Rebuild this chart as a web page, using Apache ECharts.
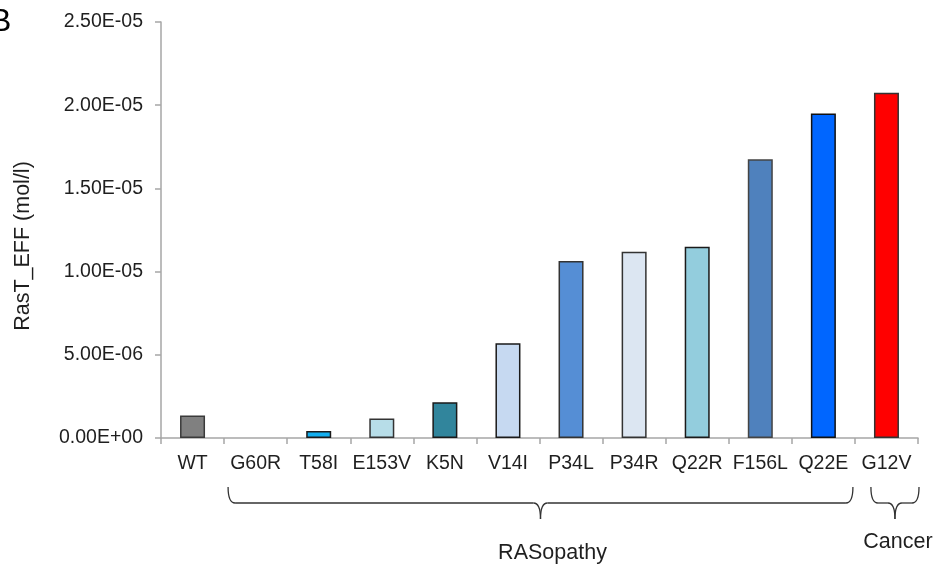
<!DOCTYPE html>
<html>
<head>
<meta charset="utf-8">
<script src="https://cdn.jsdelivr.net/npm/echarts@6/dist/echarts.min.js"></script>
<style>
  html, body { margin: 0; padding: 0; background: #fff; }
  #chart { width: 934px; height: 564px; }
</style>
</head>
<body>
<div id="chart"></div>
<script>
// Ras variants and their effective RasT concentration (mol/l)
const categories = ['WT', 'G60R', 'T58I', 'E153V', 'K5N', 'V14I', 'P34L', 'P34R', 'Q22R', 'F156L', 'Q22E', 'G12V'];
const values = [1.35e-6, 0, 0.42e-6, 1.17e-6, 2.15e-6, 5.7e-6, 10.64e-6, 11.2e-6, 11.5e-6, 16.75e-6, 19.5e-6, 20.75e-6];
const barColors = ['#808080', '#808080', '#12AEEF', '#B7DDE8', '#31859C', '#C6D9F1', '#558ED5', '#DCE6F2', '#93CDDD', '#4F81BD', '#0066FF', '#FF0000'];
const barBorders = ['#3a3a3a', '#1a1a1a', '#1a1a1a', '#333333', '#1a1a1a', '#1a1a1a', '#333333', '#333333', '#1a1a1a', '#444444', '#111111', '#333333'];
// category groups bracketed under the axis (inclusive index ranges)
const groups = [
  { name: 'RASopathy', from: 1, to: 10 },
  { name: 'Cancer', from: 11, to: 11 }
];
const yMax = 2.5e-5;
const yStep = 5e-6;

const FONT = "'Liberation Sans', Arial, sans-serif";
const TEXT = '#1f1f1f';
const AXIS = '#a6a6a6';

function sci(v) {
  if (v === 0) return '0.00E+00';
  let e = Math.floor(Math.log10(Math.abs(v)) + 1e-9);
  let m = v / Math.pow(10, e);
  if (Math.abs(m) >= 9.995) { m /= 10; e += 1; }
  const sign = e < 0 ? '-' : '+';
  const ea = Math.abs(e);
  return m.toFixed(2) + 'E' + sign + (ea < 10 ? '0' + ea : String(ea));
}

const chart = echarts.init(document.getElementById('chart'), null, { renderer: 'canvas' });

chart.setOption({
  animation: false,
  backgroundColor: '#ffffff',
  grid: { left: 161, right: 16, top: 22, bottom: 126, containLabel: false },
  xAxis: {
    type: 'category',
    data: categories,
    axisLine: { lineStyle: { color: AXIS, width: 1.5 } },
    axisTick: { show: true, alignWithLabel: false, length: 6, lineStyle: { color: AXIS, width: 1.5 } },
    axisLabel: { color: TEXT, fontFamily: FONT, fontSize: 19.5, margin: 15.5, interval: 0 },
    splitLine: { show: false }
  },
  yAxis: {
    type: 'value',
    min: 0,
    max: yMax,
    interval: yStep,
    name: 'RasT_EFF (mol/l)',
    nameLocation: 'middle',
    nameGap: 127,
    nameRotate: 90,
    nameTextStyle: { color: TEXT, fontFamily: FONT, fontSize: 21.5, padding: [0, 0, 0, -32] },
    axisLine: { show: true, lineStyle: { color: AXIS, width: 1.5 } },
    axisTick: { show: true, inside: false, length: 6, lineStyle: { color: AXIS, width: 1.5 } },
    axisLabel: { color: TEXT, fontFamily: FONT, fontSize: 19.5, margin: 18, formatter: sci },
    splitLine: { show: false }
  },
  series: [{
    type: 'bar',
    barWidth: 25,
    data: values.map((v, i) => ({
      value: v,
      itemStyle: {
        color: barColors[i],
        borderColor: v > 0 ? barBorders[i] : 'transparent',
        borderWidth: v > 0 ? 1.5 : 0
      }
    }))
  }]
});

// Curly brace built from quadratic curves and straight segments
function braceParts(x0, x1, yTop, yMid, yTip) {
  const xc = (x0 + x1) / 2;
  const r = Math.min(7, (x1 - x0) / 4);
  const st = { stroke: '#333333', lineWidth: 1.3, fill: null };
  const curve = (a, b, c, d, cx, cy) => ({ type: 'bezierCurve', shape: { x1: a, y1: b, x2: c, y2: d, cpx1: cx, cpy1: cy }, style: st });
  const seg = (a, b, c, d) => ({ type: 'line', shape: { x1: a, y1: b, x2: c, y2: d }, style: st });
  return [
    curve(x0, yTop, x0 + r, yMid, x0, yMid),
    seg(x0 + r, yMid, xc - r, yMid),
    curve(xc - r, yMid, xc, yTip, xc, yMid),
    curve(xc + r, yMid, xc, yTip, xc, yMid),
    seg(xc + r, yMid, x1 - r, yMid),
    curve(x1, yTop, x1 - r, yMid, x1, yMid)
  ];
}

const c0 = chart.convertToPixel({ xAxisIndex: 0 }, 0);
const c1 = chart.convertToPixel({ xAxisIndex: 0 }, 1);
const band = c1 - c0;
const graphics = [];
groups.forEach((g, k) => {
  const left = chart.convertToPixel({ xAxisIndex: 0 }, g.from) - band / 2;
  const right = chart.convertToPixel({ xAxisIndex: 0 }, g.to) + band / 2;
  const x0 = k === 0 ? left + 4 : left + 16;
  const x1 = k === 0 ? right - 2 : right + 1;
  braceParts(x0, x1, 487, 503, 519).forEach(p => graphics.push(p));
  graphics.push({
    type: 'text',
    x: (x0 + x1) / 2 + (k === 0 ? 12 : 3),
    y: k === 0 ? 553 : 542,
    style: { text: g.name, fill: TEXT, font: '21.5px ' + FONT, textAlign: 'center', textVerticalAlign: 'middle' }
  });
});
// panel letter
graphics.push({
  type: 'text', x: -10, y: 22,
  style: { text: 'B', fill: '#000', font: '32px ' + FONT, textAlign: 'left', textVerticalAlign: 'middle' }
});
chart.setOption({ graphic: graphics });
</script>
</body>
</html>
